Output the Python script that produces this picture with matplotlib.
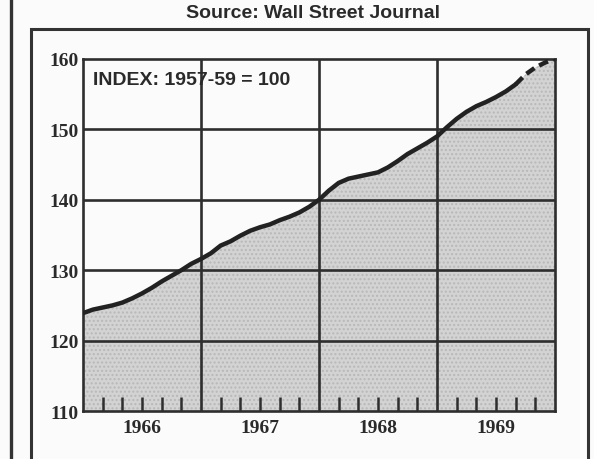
import numpy as np
import matplotlib
matplotlib.use('Agg')
import matplotlib.pyplot as plt
from matplotlib.patches import Rectangle
from matplotlib.lines import Line2D

# Datos (índice 1957-59 = 100), valores mensuales
months_solid = ['1966-01', '1966-02', '1966-03', '1966-04', '1966-05', '1966-06',
                '1966-07', '1966-08', '1966-09', '1966-10', '1966-11', '1966-12',
                '1967-01', '1967-02', '1967-03', '1967-04', '1967-05', '1967-06',
                '1967-07', '1967-08', '1967-09', '1967-10', '1967-11', '1967-12',
                '1968-01', '1968-02', '1968-03', '1968-04', '1968-05', '1968-06',
                '1968-07', '1968-08', '1968-09', '1968-10', '1968-11', '1968-12',
                '1969-01', '1969-02', '1969-03', '1969-04', '1969-05', '1969-06',
                '1969-07', '1969-08', '1969-09']
index_solid = [123.9, 124.4, 124.7, 125.0, 125.4, 126.0,
               126.7, 127.5, 128.4, 129.2, 130.0, 130.9,
               131.6, 132.4, 133.5, 134.1, 134.9, 135.6,
               136.1, 136.5, 137.1, 137.6, 138.2, 139.0,
               140.0, 141.3, 142.4, 143.0, 143.3, 143.6,
               143.9, 144.6, 145.5, 146.5, 147.3, 148.1,
               149.0, 150.3, 151.5, 152.5, 153.3, 153.9,
               154.6, 155.4, 156.4]
months_dash = ['1969-09', '1969-10', '1969-11', '1969-12', '1970-01']
index_dash = [156.4, 157.8, 158.8, 159.5, 160.0]

years = ['1966', '1967', '1968', '1969']
y_ticks = [110, 120, 130, 140, 150, 160]


def to_float(m):
    y, mo = m.split('-')
    return int(y) + (int(mo) - 1) / 12


x_solid = np.array([to_float(m) for m in months_solid])
x_dash = np.array([to_float(m) for m in months_dash])
x_all = np.concatenate([x_solid, x_dash[1:]])
y_all = np.concatenate([index_solid, index_dash[1:]])

W, H = 594, 460
fig = plt.figure(figsize=(W / 100, H / 100), dpi=100)
fig.patch.set_facecolor('#fbfbfb')

# Marco exterior y borde de página
fig.add_artist(Rectangle((31 / W, -0.05), (588 - 31) / W, 1.05 - 30 / H,
                         transform=fig.transFigure, fill=False,
                         edgecolor='#333333', linewidth=2.2))
fig.add_artist(Line2D([11 / W, 11 / W], [0, 1], transform=fig.transFigure,
                      color='#333333', linewidth=2.4))

fig.text(313 / W, 1 - 13 / H, 'Source: Wall Street Journal', ha='center', va='center',
         fontsize=14, fontweight='bold', family='Liberation Sans', color='#2a2a2a')

ax = fig.add_axes([83 / W, 1 - 412 / H, (555 - 83) / W, (412 - 60) / H])
ax.set_facecolor('#fbfbfb')
ax.set_xlim(1966, 1970)
ax.set_ylim(110, 160)

ax.fill_between(x_all, y_all, 110, facecolor='#d3d3d3', edgecolor='#b8b8b8',
                hatch='....', linewidth=0, zorder=1)

for yv in y_ticks[1:-1]:
    ax.axhline(yv, color='#2e2e2e', linewidth=1.9, zorder=2)
for xv in [1967, 1968, 1969]:
    ax.axvline(xv, color='#2e2e2e', linewidth=1.9, zorder=2)

ax.plot(x_solid, index_solid, color='#222222', linewidth=3.2,
        solid_capstyle='round', zorder=3)
ax.plot(x_dash, index_dash, color='#222222', linewidth=3.2,
        linestyle=(0, (2.2, 1.2)), zorder=3)

for s in ax.spines.values():
    s.set_linewidth(1.9)
    s.set_color('#2e2e2e')

ax.set_yticks(y_ticks)
ax.set_yticklabels([str(v) for v in y_ticks])
ax.set_xticks([1966.5, 1967.5, 1968.5, 1969.5])
ax.set_xticklabels(years)
ax.xaxis.remove_overlapping_locs = False
ax.set_xticks([y + m / 12 for y in range(1966, 1970) for m in (2, 4, 6, 8, 10)],
              minor=True)
ax.tick_params(axis='both', which='major', length=0)
ax.tick_params(axis='y', pad=3)
ax.tick_params(axis='x', pad=6)
ax.tick_params(axis='x', which='minor', direction='in', length=10, width=1.8,
               color='#2e2e2e')
for lab in ax.get_xticklabels() + ax.get_yticklabels():
    lab.set_fontfamily('Liberation Serif')
    lab.set_fontweight('bold')
    lab.set_fontsize(14)
    lab.set_color('#2a2a2a')

ax.text(0.022, 0.965, 'INDEX: 1957-59 = 100', transform=ax.transAxes,
        ha='left', va='top', fontsize=14, fontweight='bold',
        family='Liberation Sans', color='#2a2a2a', zorder=4)

fig.savefig('out.png', dpi=100, facecolor=fig.get_facecolor())
